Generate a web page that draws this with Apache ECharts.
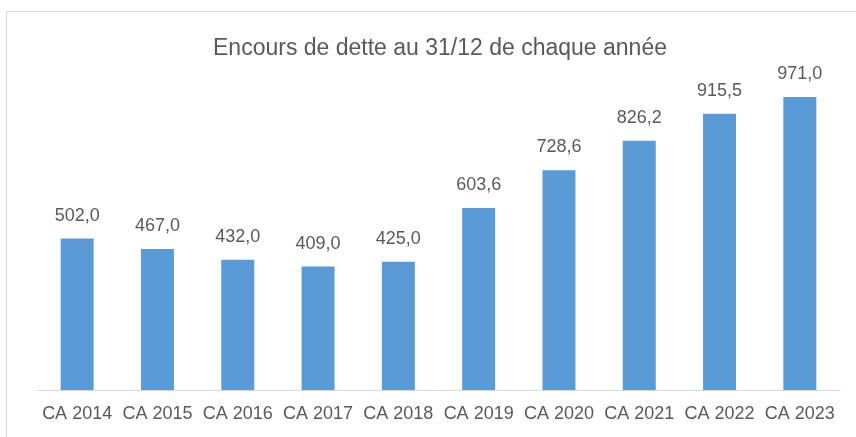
<!DOCTYPE html>
<html>
<head>
<meta charset="utf-8">
<script src="https://cdn.jsdelivr.net/npm/echarts@6/dist/echarts.min.js"></script>
<style>
  html, body { margin: 0; padding: 0; background: #fff; }
  #main { width: 856px; height: 437px; }
</style>
</head>
<body>
<div id="main"></div>
<script>
const categories = ["CA 2014", "CA 2015", "CA 2016", "CA 2017", "CA 2018",
  "CA 2019", "CA 2020", "CA 2021", "CA 2022", "CA 2023"];
const encours = [502.0, 467.0, 432.0, 409.0, 425.0, 603.6, 728.6, 826.2, 915.5, 971.0];

const chart = echarts.init(document.getElementById("main"));

const option = {
  animation: false,
  textStyle: { fontFamily: "Liberation Sans" },
  title: {
    text: "Encours de dette au 31/12 de chaque année",
    left: 435,
    top: 32,
    textAlign: "center",
    textStyle: { fontSize: 23, fontWeight: "normal", color: "#595959" }
  },
  graphic: [{
    type: "rect",
    shape: { x: 6.5, y: 11.5, width: 900, height: 500 },
    style: { fill: "none", stroke: "#d9d9d9", lineWidth: 1 },
    z: -1
  }],
  grid: { left: 37, right: 16, top: 28, bottom: 47 },
  xAxis: {
    type: "category",
    data: categories,
    axisLine: { lineStyle: { color: "#d9d9d9" } },
    axisTick: { show: false },
    axisLabel: { color: "#595959", fontSize: 18, margin: 15, interval: 0 }
  },
  yAxis: {
    type: "value",
    min: 0,
    max: 1200,
    show: false,
    splitLine: { show: false }
  },
  series: [{
    type: "bar",
    data: encours,
    barWidth: 33,
    itemStyle: { color: "#5b9bd5" },
    label: {
      show: true,
      position: "top",
      distance: 14,
      color: "#595959",
      fontSize: 18,
      formatter: p => p.value.toFixed(1).replace(".", ",")
    }
  }]
};

chart.setOption(option);
</script>
</body>
</html>
